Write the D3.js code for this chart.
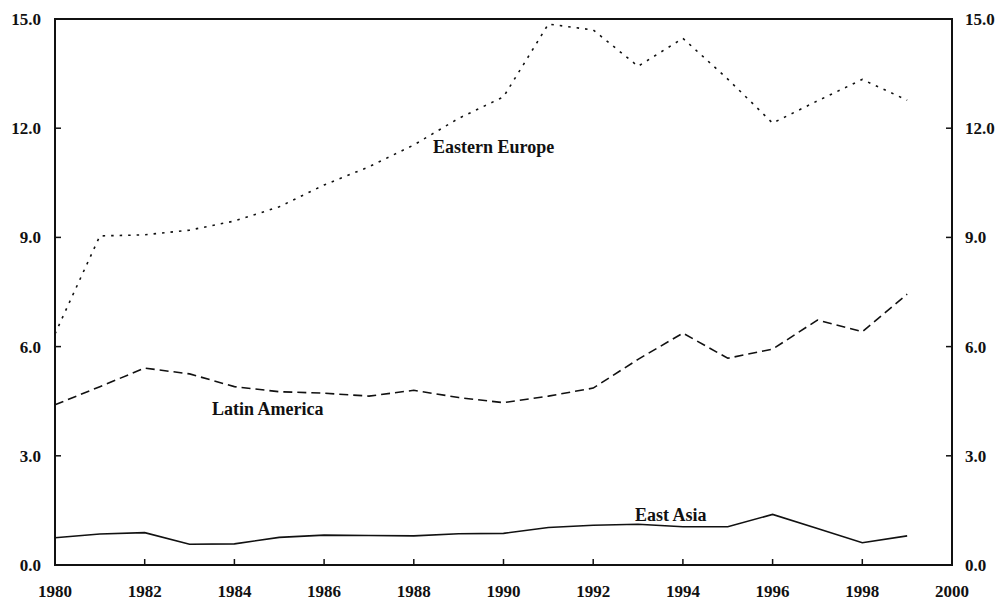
<!DOCTYPE html>
<html>
<head>
<meta charset="utf-8">
<script src="https://cdn.jsdelivr.net/npm/d3@7"></script>
<style>
  body { margin: 0; background: #fff; }
  text { font-family: "Liberation Serif", "Times New Roman", serif; font-weight: bold; fill: #111; }
</style>
</head>
<body>
<div id="chart"></div>
<script>
// years on the x axis
const years = d3.range(1980, 2000);

// series values
const easternEurope = [6.35, 9.04, 9.07, 9.2, 9.45, 9.84, 10.44, 10.94, 11.54, 12.27,
  12.86, 14.86, 14.7, 13.7, 14.47, 13.35, 12.14, 12.75, 13.34, 12.77];
const latinAmerica = [4.4, 4.9, 5.41, 5.25, 4.9, 4.76, 4.72, 4.64, 4.8, 4.6,
  4.46, 4.64, 4.86, 5.65, 6.37, 5.68, 5.93, 6.73, 6.41, 7.44];
const eastAsia = [0.75, 0.85, 0.89, 0.57, 0.58, 0.76, 0.82, 0.81, 0.8, 0.86,
  0.87, 1.03, 1.09, 1.12, 1.05, 1.05, 1.39, 1.0, 0.61, 0.8];

const xTicks = d3.range(1980, 2001, 2);
const yTicks = [0, 3, 6, 9, 12, 15];

const width = 1002, height = 601;
const margin = { top: 19, right: 50, bottom: 36, left: 55 };
const innerW = 952 - margin.left, innerH = 565 - margin.top;

const svg = d3.select("#chart").append("svg")
  .attr("width", width)
  .attr("height", height);

const g = svg.append("g")
  .attr("transform", `translate(${margin.left},${margin.top})`);

const x = d3.scaleLinear().domain([1980, 2000]).range([0, innerW]);
const y = d3.scaleLinear().domain([0, 15]).range([innerH, 0]);

// inward ticks
const tickLen = 6;
const inner = yTicks.filter(v => v > 0 && v < 15);
inner.forEach(v => {
  g.append("line").attr("x1", 0).attr("x2", tickLen)
    .attr("y1", y(v)).attr("y2", y(v)).attr("stroke", "#111").attr("stroke-width", 1.5);
  g.append("line").attr("x1", innerW - tickLen).attr("x2", innerW)
    .attr("y1", y(v)).attr("y2", y(v)).attr("stroke", "#111").attr("stroke-width", 1.5);
});
xTicks.filter(v => v > 1980 && v < 2000).forEach(v => {
  g.append("line").attr("x1", x(v)).attr("x2", x(v))
    .attr("y1", innerH).attr("y2", innerH - tickLen).attr("stroke", "#111").attr("stroke-width", 1.5);
});

// frame
g.append("rect")
  .attr("width", innerW).attr("height", innerH)
  .attr("fill", "none").attr("stroke", "#111").attr("stroke-width", 2);

// tick labels
g.selectAll(".yl").data(yTicks).enter().append("text")
  .attr("x", -14).attr("y", d => y(d)).attr("dy", "0.35em")
  .attr("text-anchor", "end").style("font-size", "17px")
  .text(d => d.toFixed(1));

g.selectAll(".yr").data(yTicks).enter().append("text")
  .attr("x", innerW + 13).attr("y", d => y(d)).attr("dy", "0.35em")
  .attr("text-anchor", "start").style("font-size", "17px")
  .text(d => d.toFixed(1));

g.selectAll(".xl").data(xTicks).enter().append("text")
  .attr("x", d => x(d)).attr("y", innerH + 32)
  .attr("text-anchor", "middle").style("font-size", "17px")
  .text(d => d);

// lines
const line = d3.line().x((d, i) => x(years[i])).y(d => y(d));

const series = [
  { name: "Eastern Europe", values: easternEurope, dash: "2.5,6", lx: 378, ly: 134 },
  { name: "Latin America", values: latinAmerica, dash: "9,5", lx: 157, ly: 396 },
  { name: "East Asia", values: eastAsia, dash: null, lx: 580, ly: 502 }
];

series.forEach(s => {
  g.append("path")
    .datum(s.values)
    .attr("d", line)
    .attr("fill", "none")
    .attr("stroke", "#111")
    .attr("stroke-width", 1.6)
    .attr("stroke-dasharray", s.dash);

  g.append("text")
    .attr("x", s.lx).attr("y", s.ly)
    .style("font-size", "18px")
    .text(s.name);
});
</script>
</body>
</html>
